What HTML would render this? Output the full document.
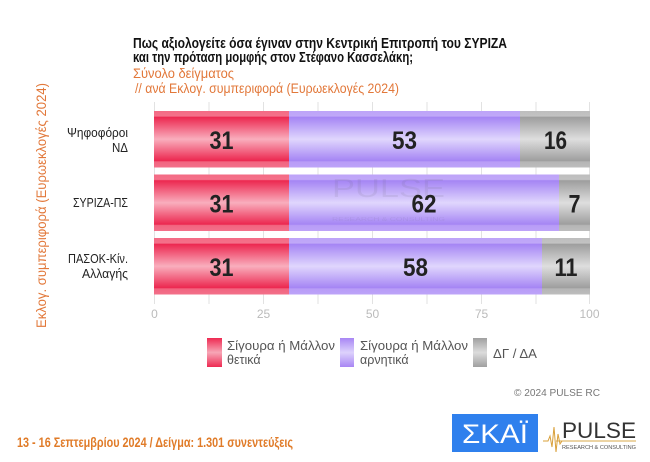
<!DOCTYPE html>
<html>
<head>
<meta charset="utf-8">
<style>
html,body{margin:0;padding:0;background:#fff;}
body{width:650px;height:462px;overflow:hidden;}
svg{display:block;font-family:"Liberation Sans","Noto Sans CJK SC",sans-serif;}
</style>
</head>
<body>
<svg width="650" height="462" viewBox="0 0 650 462" xmlns="http://www.w3.org/2000/svg">
  <defs>
    <linearGradient id="gr" x1="0" y1="0" x2="0" y2="1">
      <stop offset="0" stop-color="#f36a84"/>
      <stop offset="0.09" stop-color="#f4718a"/>
      <stop offset="0.11" stop-color="#ec2850"/>
      <stop offset="0.5" stop-color="#f9aebd"/>
      <stop offset="0.88" stop-color="#ec2850"/>
      <stop offset="0.9" stop-color="#f16580"/>
      <stop offset="1" stop-color="#f3708a"/>
    </linearGradient>
    <linearGradient id="gp" x1="0" y1="0" x2="0" y2="1">
      <stop offset="0" stop-color="#bda3f8"/>
      <stop offset="0.09" stop-color="#c0a8f8"/>
      <stop offset="0.11" stop-color="#a585f4"/>
      <stop offset="0.5" stop-color="#e0d6fd"/>
      <stop offset="0.88" stop-color="#a585f4"/>
      <stop offset="0.9" stop-color="#b89cf7"/>
      <stop offset="1" stop-color="#bda3f8"/>
    </linearGradient>
    <linearGradient id="gg" x1="0" y1="0" x2="0" y2="1">
      <stop offset="0" stop-color="#bdbdbd"/>
      <stop offset="0.09" stop-color="#c2c2c2"/>
      <stop offset="0.11" stop-color="#9e9e9e"/>
      <stop offset="0.5" stop-color="#dedede"/>
      <stop offset="0.88" stop-color="#9e9e9e"/>
      <stop offset="0.9" stop-color="#b5b5b5"/>
      <stop offset="1" stop-color="#bdbdbd"/>
    </linearGradient>
    <linearGradient id="lr" x1="0" y1="0" x2="0" y2="1">
      <stop offset="0" stop-color="#ee2a52"/>
      <stop offset="0.5" stop-color="#f7a6b6"/>
      <stop offset="1" stop-color="#ee2a52"/>
    </linearGradient>
    <linearGradient id="lp" x1="0" y1="0" x2="0" y2="1">
      <stop offset="0" stop-color="#a886f4"/>
      <stop offset="0.5" stop-color="#ddd2fc"/>
      <stop offset="1" stop-color="#a886f4"/>
    </linearGradient>
    <linearGradient id="lg" x1="0" y1="0" x2="0" y2="1">
      <stop offset="0" stop-color="#a0a0a0"/>
      <stop offset="0.5" stop-color="#dcdcdc"/>
      <stop offset="1" stop-color="#a0a0a0"/>
    </linearGradient>
  </defs>

  <!-- Title -->
  <text x="133" y="48" font-size="15" font-weight="bold" fill="#111" textLength="374" lengthAdjust="spacingAndGlyphs">Πως αξιολογείτε όσα έγιναν στην Κεντρική Επιτροπή του ΣΥΡΙΖΑ</text>
  <text x="133" y="62" font-size="15" font-weight="bold" fill="#111" textLength="280" lengthAdjust="spacingAndGlyphs">και την πρόταση μομφής στον Στέφανο Κασσελάκη;</text>
  <text x="133" y="78" font-size="14" fill="#e2783a" textLength="101" lengthAdjust="spacingAndGlyphs">Σύνολο δείγματος</text>
  <text x="135" y="93" font-size="14" fill="#e2783a" textLength="264" lengthAdjust="spacingAndGlyphs">// ανά Εκλογ. συμπεριφορά (Ευρωεκλογές 2024)</text>

  <!-- Vertical axis label -->
  <text transform="translate(46,328) rotate(-90)" x="0" y="0" font-size="13.5" fill="#e2783a" textLength="245" lengthAdjust="spacingAndGlyphs">Εκλογ. συμπεριφορά (Ευρωεκλογές 2024)</text>

  <!-- Gridlines -->
  <g stroke="#e2e2e2" stroke-width="1">
    <line x1="154.5" y1="102" x2="154.5" y2="304"/>
    <line x1="209" y1="102" x2="209" y2="304"/>
    <line x1="263.5" y1="102" x2="263.5" y2="304"/>
    <line x1="318" y1="102" x2="318" y2="304"/>
    <line x1="372.5" y1="102" x2="372.5" y2="304"/>
    <line x1="427" y1="102" x2="427" y2="304"/>
    <line x1="481.5" y1="102" x2="481.5" y2="304"/>
    <line x1="536" y1="102" x2="536" y2="304"/>
    <line x1="589.5" y1="102" x2="589.5" y2="304"/>
  </g>

  <!-- Bars -->
  <rect x="154" y="111" width="135" height="56.5" fill="url(#gr)"/>
  <rect x="289" y="111" width="231" height="56.5" fill="url(#gp)"/>
  <rect x="520" y="111" width="70" height="56.5" fill="url(#gg)"/>

  <rect x="154" y="174.5" width="135" height="56.5" fill="url(#gr)"/>
  <rect x="289" y="174.5" width="270" height="56.5" fill="url(#gp)"/>
  <rect x="559" y="174.5" width="31" height="56.5" fill="url(#gg)"/>

  <rect x="154" y="238" width="135" height="56.5" fill="url(#gr)"/>
  <rect x="289" y="238" width="253" height="56.5" fill="url(#gp)"/>
  <rect x="542" y="238" width="48" height="56.5" fill="url(#gg)"/>

  <!-- Watermark -->
  <g opacity="0.09" fill="#555">
    <text x="332" y="197" font-size="26" textLength="113" lengthAdjust="spacingAndGlyphs">PULSE</text>
    <text x="332" y="221" font-size="5" textLength="113" lengthAdjust="spacingAndGlyphs">RESEARCH &amp; CONSULTING</text>
  </g>

  <!-- Value labels -->
  <g font-size="25" font-weight="bold" fill="#222" text-anchor="middle">
    <text x="221.5" y="149" textLength="24" lengthAdjust="spacingAndGlyphs">31</text>
    <text x="404.5" y="149" textLength="25" lengthAdjust="spacingAndGlyphs">53</text>
    <text x="555.5" y="149" textLength="23" lengthAdjust="spacingAndGlyphs">16</text>

    <text x="221.5" y="212.5" textLength="24" lengthAdjust="spacingAndGlyphs">31</text>
    <text x="424" y="212.5" textLength="25" lengthAdjust="spacingAndGlyphs">62</text>
    <text x="574.5" y="212.5" textLength="12" lengthAdjust="spacingAndGlyphs">7</text>

    <text x="221.5" y="276" textLength="24" lengthAdjust="spacingAndGlyphs">31</text>
    <text x="415.5" y="276" textLength="25" lengthAdjust="spacingAndGlyphs">58</text>
    <text x="566" y="276" textLength="23" lengthAdjust="spacingAndGlyphs">11</text>
  </g>

  <!-- Category labels -->
  <g font-size="12.5" fill="#222" text-anchor="end">
    <text x="128" y="137" textLength="61" lengthAdjust="spacingAndGlyphs">Ψηφοφόροι</text>
    <text x="128" y="152" textLength="16" lengthAdjust="spacingAndGlyphs">ΝΔ</text>
    <text x="128" y="207" textLength="55" lengthAdjust="spacingAndGlyphs">ΣΥΡΙΖΑ-ΠΣ</text>
    <text x="128" y="263" textLength="60" lengthAdjust="spacingAndGlyphs">ΠΑΣΟΚ-Κίν.</text>
    <text x="128" y="278" textLength="46" lengthAdjust="spacingAndGlyphs">Αλλαγής</text>
  </g>

  <!-- Tick labels -->
  <g font-size="12" fill="#bbb" text-anchor="middle">
    <text x="154.5" y="318">0</text>
    <text x="263.5" y="318">25</text>
    <text x="372.5" y="318">50</text>
    <text x="481.5" y="318">75</text>
    <text x="589.5" y="318">100</text>
  </g>

  <!-- Legend -->
  <rect x="207" y="338" width="15" height="29" fill="url(#lr)"/>
  <text x="227" y="350" font-size="12.5" fill="#555" textLength="108" lengthAdjust="spacingAndGlyphs">Σίγουρα ή Μάλλον</text>
  <text x="227" y="364" font-size="12.5" fill="#555">θετικά</text>

  <rect x="340" y="338" width="14" height="29" fill="url(#lp)"/>
  <text x="360" y="350" font-size="12.5" fill="#555" textLength="108" lengthAdjust="spacingAndGlyphs">Σίγουρα ή Μάλλον</text>
  <text x="360" y="364" font-size="12.5" fill="#555">αρνητικά</text>

  <rect x="473" y="338" width="14" height="29" fill="url(#lg)"/>
  <text x="493" y="358" font-size="12.5" fill="#555" textLength="44" lengthAdjust="spacingAndGlyphs">ΔΓ / ΔΑ</text>

  <!-- Copyright -->
  <text x="600" y="396" font-size="10" fill="#777" text-anchor="end" textLength="86" lengthAdjust="spacingAndGlyphs">© 2024 PULSE RC</text>

  <!-- Footer -->
  <text x="17" y="447" font-size="14" font-weight="bold" fill="#e07b28" textLength="276" lengthAdjust="spacingAndGlyphs">13 - 16 Σεπτεμβρίου 2024  /  Δείγμα:  1.301 συνεντεύξεις</text>

  <!-- SKAI logo -->
  <rect x="452" y="414" width="86" height="38" fill="#2f80ed"/>
  <text x="495" y="443" font-size="27" fill="#fff" text-anchor="middle" textLength="66" lengthAdjust="spacingAndGlyphs">ΣΚΑΪ</text>

  <!-- PULSE logo -->
  <text x="562" y="438" font-size="22" fill="#333" textLength="74" lengthAdjust="spacingAndGlyphs">PULSE</text>
  <line x1="556" y1="441" x2="636" y2="441" stroke="#d8a84a" stroke-width="1"/>
  <polyline points="543,441 548,441 550,436 552,447 554,427 556,452 558,434 560,444 562,441" fill="none" stroke="#d9a03a" stroke-width="1"/>
  <text x="562" y="449" font-size="5" fill="#555" textLength="74" lengthAdjust="spacingAndGlyphs">RESEARCH &amp; CONSULTING</text>
</svg>
</body>
</html>
